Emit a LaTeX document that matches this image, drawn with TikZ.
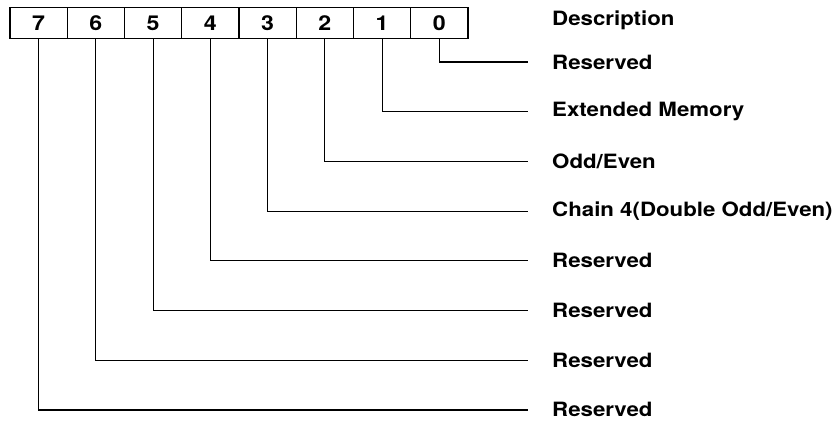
\documentclass[tikz,border=0pt]{standalone}
\usepackage{fontspec}
\setsansfont{TeX Gyre Heros}[FakeStretch=1.13]
\usetikzlibrary{positioning}

\tikzset{
  bitcell/.style={draw, line width=1.2pt, minimum width=57.25pt, minimum height=31pt,
    inner sep=0pt, font=\fontsize{20.5}{20.5}\sffamily\bfseries},
  desc/.style={anchor=west, inner sep=0pt, font=\fontsize{19.7}{19.7}\sffamily\bfseries},
  wire/.style={line width=1.2pt}
}

\begin{document}
\begin{tikzpicture}[x=1pt, y=-1pt]
  \useasboundingbox (0,0) rectangle (838,423);
  % bit cells of the register
  \foreach \b in {0,...,7}
    \node[bitcell] (bit\b) at ({10+57.25*(7-\b)+28.625},23) {\b};
  \node[desc] (head) at (552,20.5) {Description};
  % one line per bit down to its meaning
  \foreach \b/\txt in {0/Reserved,1/Extended Memory,2/{Odd/Even},
      3/{Chain 4(Double Odd/Even)},4/Reserved,5/Reserved,6/Reserved,7/Reserved} {
    \coordinate (end\b) at (528,{62+49.7*\b});
    \node[desc, right=24pt of end\b] (desc\b) {\txt};
    \draw[wire] (bit\b.south) |- (end\b);
  }
\end{tikzpicture}
\end{document}
